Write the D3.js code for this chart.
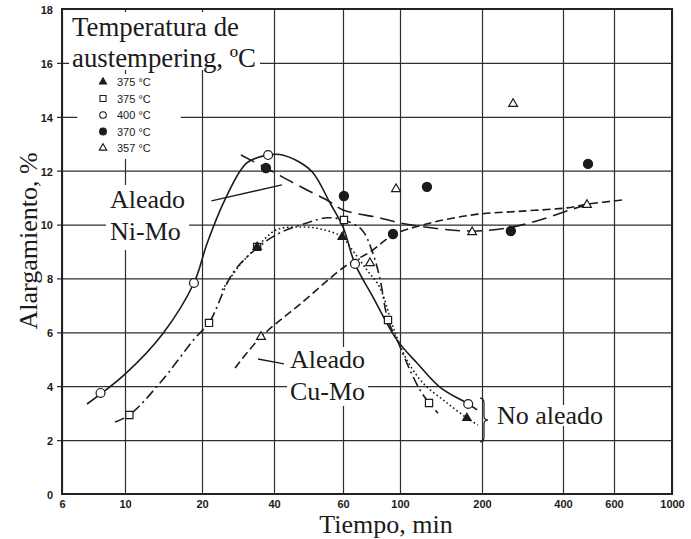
<!DOCTYPE html>
<html>
<head>
<meta charset="utf-8">
<script src="https://cdn.jsdelivr.net/npm/d3@7"></script>
<style>
  html, body { margin: 0; padding: 0; background: #fff; }
  svg { display: block; }
</style>
</head>
<body>
<div id="chart"></div>
<script>
// axis ticks
var xTicks = [6, 10, 20, 40, 60, 100, 200, 400, 600, 1000];
var yTicks = [0, 2, 4, 6, 8, 10, 12, 14, 16, 18];
var legendLabels = ["375 °C", "375 °C", "400 °C", "370 °C", "357 °C"];

// measured points [tiempo min, alargamiento %]
var pts375tri = [[34, 9.17], [59.7, 9.54], [176, 2.82]];
var pts375sq  = [[10.4, 2.93], [21.4, 6.35], [34, 9.17], [60.5, 10.17], [89.8, 6.46], [127.8, 3.38]];
var pts400    = [[8.2, 3.75], [18.6, 7.83], [37.8, 12.58], [66.8, 8.54], [178, 3.34]];
var pts370    = [[37, 12.1], [60.5, 11.06], [93.9, 9.65], [125.6, 11.4], [256, 9.76], [488, 12.25]];
var pts357    = [[35.3, 5.83], [76.4, 8.57], [96.5, 11.32], [184, 9.72], [261, 14.48], [484, 10.73]];

// fitted curves
var curveNiMo400 = [[7.35, 3.34], [10, 4.45], [14.1, 5.97], [18.6, 7.83], [21, 9.3], [24.9, 10.91],
  [30.8, 12.29], [37.8, 12.58], [41.4, 12.6], [46.4, 12.32], [50.3, 11.92], [55.6, 10.8], [60, 9.91],
  [66.8, 8.54], [78.5, 7.31], [97.3, 5.72], [115.5, 4.86], [140, 3.97], [178, 3.34], [192, 3.12]];
var curveNiMo370 = [[29.1, 12.58], [37, 12.1], [44.9, 11.54], [50.3, 11.17], [55.6, 10.84], [60, 10.54],
  [83.3, 10.25], [100, 10.06], [140, 9.84], [185, 9.76], [247.7, 9.87], [328.6, 10.17], [433, 10.58], [497, 10.76]];
var curveSq375 = [[9.22, 2.67], [10.4, 2.93], [13.7, 4.12], [18.8, 5.79], [21.4, 6.35], [26.9, 8.2], [34, 9.13],
  [41.4, 9.69], [48.5, 10.06], [54.6, 10.25], [60.5, 10.17], [71.1, 9.8], [77.6, 9.06], [83.3, 8.05],
  [89.8, 6.46], [98.2, 5.64], [108.8, 4.6], [118.4, 3.86], [127.8, 3.38], [137.9, 3.0]];
var curveNoAleado = [[24.3, 7.57], [28.8, 8.5], [34, 9.17], [40.5, 9.8], [45.9, 9.91], [52.4, 9.84],
  [59.7, 9.54], [63.9, 9.17], [74.4, 8.31], [83.3, 7.68], [92.8, 6.35], [98.2, 5.72], [106.1, 4.97],
  [121.4, 4.12], [148.8, 3.38], [176, 2.82], [193.3, 2.56]];
var curveCuMo = [[27.5, 4.68], [35.3, 5.83], [46.4, 7.02], [62.2, 8.5], [76.4, 8.98], [93.9, 9.61],
  [121.4, 9.99], [185, 10.36], [284, 10.5], [412.7, 10.62], [488, 10.76], [644, 10.91]];

// annotation anchors (data units)
var leaderNiMo = [[21.9, 10.88], [41.9, 11.47]];
var leaderCuMo = [[34.3, 5.01], [42.4, 4.83]];
var braceSpan = [200, 1.93, 3.56];

var width = 691, height = 539;
var margin = {top: 9, right: 19, bottom: 45, left: 62};
var plotW = width - margin.left - margin.right;
var plotH = height - margin.top - margin.bottom;

// the printed grid is not evenly spaced, so the log scale is piecewise on the tick marks
var xTickPx = [0, 63, 140, 212, 281, 338, 420, 501, 552, 610];

var x = d3.scaleLog().domain(xTicks).range(xTickPx.map(function (p) { return margin.left + p; }));
var y = d3.scaleLinear().domain([0, 18]).range([margin.top + plotH, margin.top]);

var serif = "'Liberation Serif', 'Times New Roman', serif";
var sans = "'Liberation Sans', Arial, sans-serif";
var ink = "#1b1b1b";

var svg = d3.select("#chart").append("svg")
  .attr("width", width).attr("height", height)
  .style("background", "#fff");

var gridLayer = svg.append("g");
var boxLayer = svg.append("g");
var frameLayer = svg.append("g");
var curveLayer = svg.append("g");
var markLayer = svg.append("g");
var textLayer = svg.append("g");

// y axis with gridlines
var yAxis = gridLayer.append("g")
  .attr("transform", "translate(" + (margin.left - 5) + ",0)")
  .call(d3.axisLeft(y).tickValues(yTicks).tickSizeInner(-(plotW + 5)).tickSizeOuter(0).tickPadding(4));
yAxis.select(".domain").remove();
yAxis.selectAll("line").attr("stroke", "#2e2e2e").attr("stroke-width", 1.2);
yAxis.selectAll("g.tick").filter(function (d) { return d === 0 || d === 18; })
  .select("line").attr("x1", 5);
yAxis.selectAll("text")
  .attr("font-family", sans).attr("font-weight", "bold").attr("font-size", 11).attr("fill", ink)
  .attr("dy", "0.40em");

// x axis with gridlines
var xAxis = gridLayer.append("g")
  .attr("transform", "translate(0," + (margin.top + plotH) + ")")
  .call(d3.axisBottom(x).tickValues(xTicks).tickFormat(d3.format("d"))
    .tickSizeInner(-plotH).tickSizeOuter(0).tickPadding(6));
xAxis.select(".domain").remove();
xAxis.selectAll("line").attr("stroke", "#2e2e2e").attr("stroke-width", 1.2);
xAxis.selectAll("text")
  .attr("font-family", sans).attr("font-weight", "bold").attr("font-size", 11).attr("fill", ink);

// frame
frameLayer.append("rect")
  .attr("x", margin.left).attr("y", margin.top)
  .attr("width", plotW).attr("height", plotH)
  .attr("fill", "none").attr("stroke", "#222").attr("stroke-width", 2);

// curves
var line = d3.line()
  .x(function (d) { return x(d[0]); })
  .y(function (d) { return y(d[1]); })
  .curve(d3.curveCatmullRom.alpha(0.5));

var curves = [
  {data: curveNiMo400, dash: null},
  {data: curveNiMo370, dash: "15,7"},
  {data: curveSq375, dash: "10,4,2,4"},
  {data: curveNoAleado, dash: "1.6,2.6"},
  {data: curveCuMo, dash: "8,4"}
];
curveLayer.selectAll("path.curve")
  .data(curves)
  .enter().append("path")
  .attr("class", "curve")
  .attr("d", function (c) { return line(c.data); })
  .attr("fill", "none")
  .attr("stroke", ink)
  .attr("stroke-width", 1.6)
  .attr("stroke-dasharray", function (c) { return c.dash; });

// leader lines and brace
var straight = d3.line().x(function (d) { return x(d[0]); }).y(function (d) { return y(d[1]); });
curveLayer.append("path").attr("d", straight(leaderNiMo))
  .attr("fill", "none").attr("stroke", ink).attr("stroke-width", 1.3);
curveLayer.append("path").attr("d", straight(leaderCuMo))
  .attr("fill", "none").attr("stroke", ink).attr("stroke-width", 1.3);

var bx = x(braceSpan[0]) - 2, by0 = y(braceSpan[2]), by1 = y(braceSpan[1]), bm = (by0 + by1) / 2;
var brace = d3.path();
brace.moveTo(bx, by0);
brace.quadraticCurveTo(bx + 4, by0, bx + 4, by0 + 5);
brace.lineTo(bx + 4, bm - 4);
brace.quadraticCurveTo(bx + 4, bm, bx + 8, bm);
brace.quadraticCurveTo(bx + 4, bm, bx + 4, bm + 4);
brace.lineTo(bx + 4, by1 - 5);
brace.quadraticCurveTo(bx + 4, by1, bx, by1);
curveLayer.append("path").attr("d", brace.toString())
  .attr("fill", "none").attr("stroke", ink).attr("stroke-width", 1.2);

// markers
var series = [
  {label: legendLabels[0], data: pts375tri, type: d3.symbolTriangle, filled: true, size: 30, legSize: 22},
  {label: legendLabels[1], data: pts375sq, type: d3.symbolSquare, filled: false, size: 52, legSize: 36},
  {label: legendLabels[2], data: pts400, type: d3.symbolCircle, filled: false, size: 62, legSize: 34},
  {label: legendLabels[3], data: pts370, type: d3.symbolCircle, filled: true, size: 66, legSize: 36},
  {label: legendLabels[4], data: pts357, type: d3.symbolTriangle, filled: false, size: 34, legSize: 24}
];
// draw open square first, then the filled triangle that sits inside it
[1, 2, 4, 3, 0].forEach(function (i) {
  var s = series[i];
  markLayer.selectAll(null)
    .data(s.data)
    .enter().append("path")
    .attr("transform", function (d) { return "translate(" + x(d[0]) + "," + y(d[1]) + ")"; })
    .attr("d", d3.symbol().type(s.type).size(s.size))
    .attr("fill", s.filled ? ink : "#fff")
    .attr("stroke", ink)
    .attr("stroke-width", 1.2);
});

// text blocks with white backing (they cut the grid in the original)
function backBox(g, pad) {
  var b = g.node().getBBox();
  boxLayer.append("rect")
    .attr("x", b.x - pad[0]).attr("y", b.y - pad[1])
    .attr("width", b.width + pad[0] + pad[2]).attr("height", b.height + pad[1] + pad[3])
    .attr("fill", "#fff");
}

function serifBlock(lines, px, py, lh, fs) {
  var g = textLayer.append("g");
  lines.forEach(function (t, i) {
    g.append("text").attr("x", px).attr("y", py + i * lh)
      .attr("font-family", serif).attr("font-size", fs || 26).attr("fill", ink).text(t);
  });
  return g;
}

var title = serifBlock(["Temperatura de", "austempering, ºC"], 72, 36, 31, 26.8);
backBox(title, [3, 0, 4, -3]);

var legend = textLayer.append("g");
series.forEach(function (s, i) {
  var ly = 82 + i * 16.5;
  legend.append("path")
    .attr("transform", "translate(103," + ly + ")")
    .attr("d", d3.symbol().type(s.type).size(s.legSize))
    .attr("fill", s.filled ? ink : "#fff")
    .attr("stroke", ink).attr("stroke-width", 1.1);
  legend.append("text").attr("x", 117).attr("y", ly + 4)
    .attr("font-family", sans).attr("font-size", 11).attr("fill", ink).text(s.label);
});
backBox(legend, [22, 2, 30, 5]);

var niMo = serifBlock(["Aleado", "Ni-Mo"], 110, 208, 32);
backBox(niMo, [4, 0, 4, 4]);

var cuMo = serifBlock(["Aleado", "Cu-Mo"], 290, 368, 32);
backBox(cuMo, [3, -2, 3, 0]);

var noAl = serifBlock(["No aleado"], 497, 424, 0);
backBox(noAl, [2, -4, 2, -4]);

// axis titles
textLayer.append("text")
  .attr("x", 386).attr("y", 533)
  .attr("text-anchor", "middle")
  .attr("font-family", serif).attr("font-size", 26).attr("fill", ink)
  .text("Tiempo, min");

textLayer.append("text")
  .attr("transform", "translate(37,241) rotate(-90)")
  .attr("text-anchor", "middle")
  .attr("font-family", serif).attr("font-size", 26).attr("fill", ink)
  .text("Alargamiento, %");
</script>
</body>
</html>
